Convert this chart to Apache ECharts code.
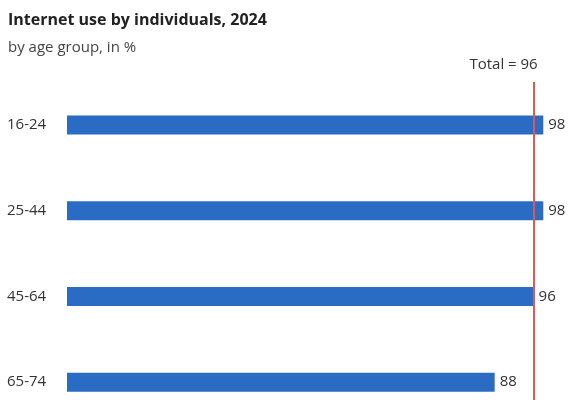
<!DOCTYPE html>
<html><head><meta charset="utf-8">
<script src="https://cdn.jsdelivr.net/npm/echarts@6/dist/echarts.min.js"></script>
<style>html,body{margin:0;padding:0;background:#fff;overflow:hidden}#c{width:573px;height:425px}</style>
</head><body><div id="c"></div>
<script>
var categories = ['16-24', '25-44', '45-64', '65-74'];
var values = [98, 98, 96, 88];
var totalValue = 96;
var titleText = 'Internet use by individuals, 2024';
var subtitleText = 'by age group, in %';

var chart = echarts.init(document.getElementById('c'), null, {renderer: 'canvas'});
chart.setOption({
  animation: false,
  backgroundColor: '#fff',
  title: {
    text: titleText,
    subtext: subtitleText,
    left: 3,
    top: 7,
    itemGap: 12,
    textStyle: {fontFamily: 'Open Sans', fontWeight: 'bold', fontSize: 16, color: '#222'},
    subtextStyle: {fontFamily: 'Open Sans', fontSize: 15, color: '#444'}
  },
  grid: {left: 67, right: 20, top: 82, bottom: 0, containLabel: false},
  xAxis: {
    type: 'value', min: 0, max: 100, show: false
  },
  yAxis: {
    type: 'category', data: categories, inverse: true,
    axisLine: {show: false}, axisTick: {show: false},
    axisLabel: {align: 'left', margin: 60, fontFamily: 'Open Sans', fontSize: 15, color: '#333'}
  },
  series: [{
    type: 'bar', data: values, barWidth: 19, clip: false,
    itemStyle: {color: '#2a6cc4'},
    label: {show: true, position: 'right', distance: 5, fontFamily: 'Open Sans', fontSize: 15, color: '#333'},
    markLine: {
      symbol: 'none', silent: true,
      lineStyle: {color: '#db5a58', width: 2, type: 'solid'},
      label: {show: true, position: 'start', formatter: 'Total = ' + totalValue, distance: 10, offset: [-30, 0],
        fontFamily: 'Open Sans', fontSize: 15, color: '#333'},
      data: [{xAxis: totalValue}],
      z: 10
    }
  }]
});
</script></body></html>
